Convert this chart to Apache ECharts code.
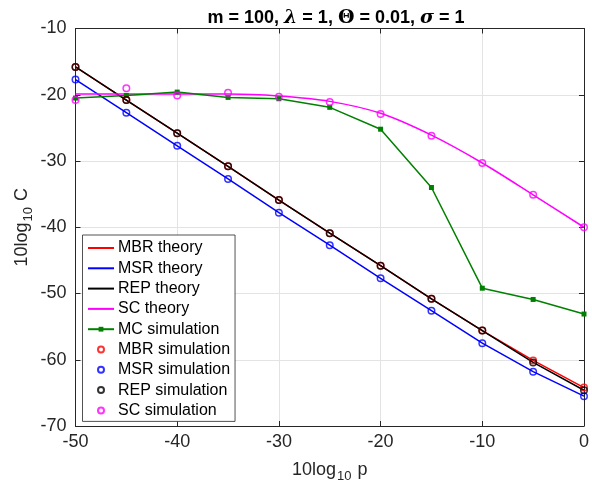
<!DOCTYPE html>
<html><head><meta charset="utf-8">
<script src="https://cdn.jsdelivr.net/npm/echarts@6/dist/echarts.min.js"></script>
<style>html,body{margin:0;padding:0;background:#fff}#c{width:592px;height:488px}</style>
</head><body><div id="c"></div>
<script>
const xValues = [-50, -45, -40, -35, -30, -25, -20, -15, -10, -5, 0];
const mbrTheory = [-15.8, -20.8, -25.8, -30.8, -35.9, -40.9, -45.8, -50.8, -55.6, -60.1, -64.2];
const msrTheory = [-17.7, -22.7, -27.7, -32.7, -37.8, -42.7, -47.7, -52.6, -57.5, -61.8, -65.5];
const repTheory = [-15.8, -20.8, -25.8, -30.8, -35.9, -40.9, -45.8, -50.8, -55.6, -60.4, -64.6];
const scTheory  = [-19.9, -19.9, -19.9, -19.9, -20.2, -21.0, -22.8, -26.1, -30.3, -35.1, -40.0];
const mcSim     = [-20.5, -20.1, -19.6, -20.4, -20.6, -21.9, -25.2, -34.0, -49.2, -50.9, -53.1];
const mbrSim    = [-15.8, -20.8, -25.8, -30.8, -35.9, -40.9, -45.8, -50.8, -55.6, -60.1, -64.2];
const msrSim    = [-17.7, -22.7, -27.7, -32.7, -37.8, -42.7, -47.7, -52.6, -57.5, -61.8, -65.5];
const repSim    = [-15.8, -20.8, -25.8, -30.8, -35.9, -40.9, -45.8, -50.8, -55.6, -60.4, -64.6];
const scSim     = [-20.8, -19.0, -20.1, -19.7, -20.3, -21.1, -22.9, -26.2, -30.3, -35.1, -40.0];
const xTicks = { min: -50, max: 0, interval: 10 };
const yTicks = { min: -70, max: -10, interval: 10 };

const pairs = ys => xValues.map((x, i) => [x, ys[i]]);
const FONT = 'Liberation Sans';
const AX = '#262626';

function theory(name, ys, color, smooth) {
  return { name, type: 'line', data: pairs(ys), symbol: 'none', smooth: smooth || false,
    lineStyle: { color, width: 1.5 }, itemStyle: { color }, z: 2, animation: false };
}
function sim(name, ys, color) {
  return { name, type: 'scatter', data: pairs(ys), symbol: 'circle', symbolSize: 6.5,
    itemStyle: { color: 'rgba(255,255,255,0)', borderColor: color, borderWidth: 1.5 }, z: 3, animation: false };
}

const baseAxis = {
  type: 'value',
  axisLine: { show: true, onZero: false, lineStyle: { color: AX, width: 1 } },
  axisTick: { show: true, inside: true, length: 5, lineStyle: { color: AX, width: 1 } },
};

const option = {
  backgroundColor: '#fff',
  animation: false,
  title: {
    text: '{b|m = 100, }{g|λ}{b| = 1, }{t|Θ}{b| = 0.01, }{g|σ}{b| = 1}',
    left: 331, top: 4, textAlign: 'center',
    textStyle: { rich: {
      b: { fontSize: 18, fontWeight: 'bold', fontFamily: FONT, color: '#000' },
      g: { fontSize: 19, fontStyle: 'italic', fontFamily: 'DejaVu Serif', color: '#000' },
      t: { fontSize: 19, fontFamily: 'DejaVu Serif', color: '#000' }
    } }
  },
  grid: { left: 75.5, right: 5, top: 28.5, bottom: 61.5, containLabel: false },
  xAxis: [
    Object.assign({}, baseAxis, {
      min: xTicks.min, max: xTicks.max, interval: xTicks.interval, position: 'bottom',
      axisLabel: { color: AX, fontSize: 18, fontFamily: FONT, margin: 7 },
      splitLine: { show: true, lineStyle: { color: '#e3e3e3', width: 1 } },
      name: '{a|10log}{s|10}{a| p}', nameLocation: 'middle', nameGap: 32,
      nameTextStyle: { color: AX, rich: {
        a: { fontSize: 18, fontFamily: FONT, color: AX },
        s: { fontSize: 13, fontFamily: FONT, color: AX, padding: [12, 1, 0, 1] }
      } }
    }),
    Object.assign({}, baseAxis, {
      min: xTicks.min, max: xTicks.max, interval: xTicks.interval, position: 'top',
      axisLabel: { show: false }, splitLine: { show: false }
    })
  ],
  yAxis: [
    Object.assign({}, baseAxis, {
      min: yTicks.min, max: yTicks.max, interval: yTicks.interval, position: 'left',
      axisLabel: { color: AX, fontSize: 18, fontFamily: FONT, margin: 9 },
      splitLine: { show: true, lineStyle: { color: '#e3e3e3', width: 1 } },
      name: '{a|10log}{s|10}{a| C}', nameLocation: 'middle', nameGap: 41, nameMoveOverlap: false,
      nameTextStyle: { color: AX, rich: {
        a: { fontSize: 18, fontFamily: FONT, color: AX },
        s: { fontSize: 13, fontFamily: FONT, color: AX, padding: [12, 1, 0, 1] }
      } }
    }),
    Object.assign({}, baseAxis, {
      min: yTicks.min, max: yTicks.max, interval: yTicks.interval, position: 'right',
      axisLabel: { show: false }, splitLine: { show: false }
    })
  ],
  legend: {
    orient: 'vertical', left: 82.5, top: 235,
    backgroundColor: '#fff', borderColor: AX, borderWidth: 0.8,
    padding: [5, 5, 3, 4.5],
    itemWidth: 26, itemHeight: 6, itemGap: 4.3,
    textStyle: { fontSize: 16, fontFamily: FONT, color: '#000', padding: [0, 0, 0, -1] },
    data: [
      { name: 'MBR theory', itemStyle: { opacity: 0 } },
      { name: 'MSR theory', itemStyle: { opacity: 0 } },
      { name: 'REP theory', itemStyle: { opacity: 0 } },
      { name: 'SC theory', itemStyle: { opacity: 0 } },
      'MC simulation', 'MBR simulation', 'MSR simulation', 'REP simulation', 'SC simulation'
    ]
  },
  series: [
    theory('MBR theory', mbrTheory, '#ff0000'),
    theory('MSR theory', msrTheory, '#0000ff'),
    theory('REP theory', repTheory, '#000000'),
    theory('SC theory', scTheory, '#ff00ff', 0.3),
    { name: 'MC simulation', type: 'line', data: pairs(mcSim), symbol: 'rect', symbolSize: 5,
      lineStyle: { color: '#008000', width: 1.5 }, itemStyle: { color: '#008000' }, z: 2, animation: false },
    sim('MBR simulation', mbrSim, '#ff0000'),
    sim('MSR simulation', msrSim, '#0000ff'),
    sim('REP simulation', repSim, '#000000'),
    sim('SC simulation', scSim, '#ff00ff')
  ]
};
const chart = echarts.init(document.getElementById('c'), null, { renderer: 'canvas' });
chart.setOption(option);
</script></body></html>
